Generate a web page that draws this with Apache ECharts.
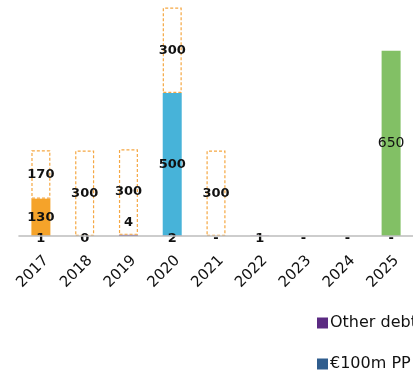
<!DOCTYPE html>
<html>
<head>
<meta charset="utf-8">
<script src="https://cdn.jsdelivr.net/npm/echarts@6/dist/echarts.min.js"></script>
<style>
  html, body { margin: 0; padding: 0; background: #ffffff; }
  #chart { width: 413px; height: 371px; }
</style>
</head>
<body>
<div id="chart"></div>
<script>
// Debt maturity profile by year (EUR m)
const years = ['2017', '2018', '2019', '2020', '2021', '2022', '2023', '2024', '2025'];

// Small residual debt, with the text shown under each column
const otherDebt = [1, 0, 4, 2, 0, 1, 0, 0, 0];
const otherDebtText = ['1', '0', '4', '2', '-', '1', '-', '-', '-'];

const privatePlacement = [null, null, null, null, null, null, null, null, null];
const termLoan = [130, null, null, null, null, null, null, null, null];
const bond2020 = [null, null, null, 500, null, null, null, null, null];
const bond2025 = [null, null, null, null, null, null, null, null, 650];

// Undrawn facilities, outlined only
const undrawn = [170, 300, 300, 300, 300, null, null, null, null];

const FONT = '"DejaVu Sans", sans-serif';
const BAR_W = 19;

const chart = echarts.init(document.getElementById('chart'), null, { renderer: 'canvas' });

const darkLabel = {
  show: true,
  position: 'inside',
  color: '#111111',
  fontFamily: FONT,
  fontSize: 13,
  fontWeight: 'bold'
};

const legendBase = {
  orient: 'vertical',
  left: 317,
  padding: 0,
  itemWidth: 11,
  itemHeight: 11,
  itemGap: 0,
  icon: 'rect',
  textStyle: { fontFamily: FONT, fontSize: 16, color: '#111111', padding: [0, 0, 0, -3] }
};

chart.setOption({
  animation: false,
  backgroundColor: '#ffffff',
  grid: { left: 19, right: -2, top: 8, bottom: 135, containLabel: false },
  legend: [
    Object.assign({}, legendBase, { top: 315, data: ['Other debt'] }),
    Object.assign({}, legendBase, { top: 356, data: ['€100m PP'] })
  ],
  xAxis: {
    type: 'category',
    data: years,
    z: 10,
    axisLine: { show: true, lineStyle: { color: '#bdbdbd', width: 1.6 } },
    axisTick: { show: false },
    axisLabel: {
      rotate: 45,
      margin: 17,
      verticalAlign: 'top',
      color: '#111111',
      fontFamily: FONT,
      fontSize: 15,
      interval: 0
    }
  },
  yAxis: {
    type: 'value',
    min: 0,
    max: 800,
    show: false,
    splitLine: { show: false }
  },
  series: [
    {
      name: 'Other debt',
      type: 'bar',
      stack: 'debt',
      barWidth: BAR_W,
      itemStyle: { color: '#5b2a82' },
      data: otherDebt.map((v, i) => ({
        value: v,
        label: {
          show: true,
          position: 'inside',
          offset: v === 4 ? [0, -13] : [0, 3],
          formatter: () => otherDebtText[i],
          color: '#111111',
          fontFamily: FONT,
          fontSize: 13,
          fontWeight: 'bold'
        }
      }))
    },
    {
      name: '€100m PP',
      type: 'bar',
      stack: 'debt',
      barWidth: BAR_W,
      itemStyle: { color: '#2f5d8e' },
      data: privatePlacement
    },
    {
      name: 'Term loan',
      type: 'bar',
      stack: 'debt',
      barWidth: BAR_W,
      itemStyle: { color: '#f5a32a' },
      label: darkLabel,
      data: termLoan
    },
    {
      name: 'Bond 2020',
      type: 'bar',
      stack: 'debt',
      barWidth: BAR_W,
      itemStyle: { color: '#47b3d9' },
      label: darkLabel,
      data: bond2020
    },
    {
      name: 'Bond 2025',
      type: 'bar',
      stack: 'debt',
      barWidth: BAR_W,
      itemStyle: { color: '#82c065' },
      label: Object.assign({}, darkLabel, { fontWeight: 'normal', fontSize: 14 }),
      data: bond2025
    },
    {
      name: 'Undrawn',
      type: 'bar',
      stack: 'debt',
      barWidth: BAR_W,
      itemStyle: {
        color: 'rgba(255,255,255,0)',
        borderColor: '#f5a742',
        borderWidth: 1.2,
        borderType: [3, 2]
      },
      label: darkLabel,
      data: undrawn
    }
  ]
});
</script>
</body>
</html>
